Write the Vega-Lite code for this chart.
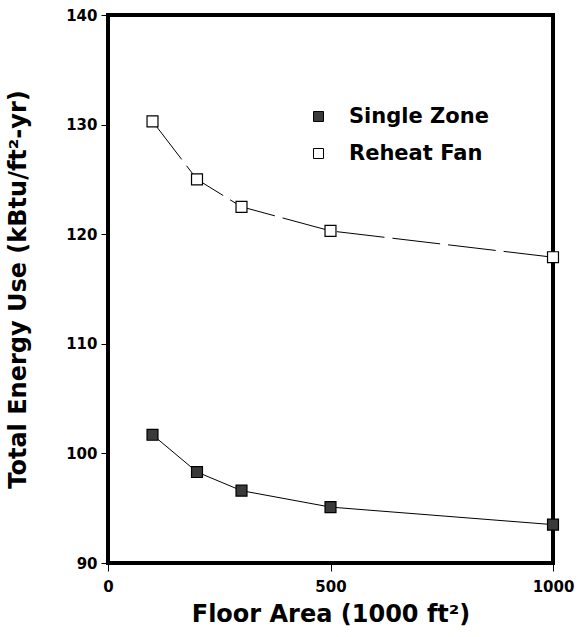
{
  "$schema": "https://vega.github.io/schema/vega-lite/v6.json",
  "width": 445,
  "height": 548,
  "autosize": {"type": "none"},
  "padding": {"left": 108, "top": 15, "right": 33, "bottom": 74},
  "background": "white",
  "config": {
    "view": {"stroke": "black", "strokeWidth": 4},
    "axis": {
      "grid": false,
      "domain": false,
      "tickColor": "black",
      "tickWidth": 1,
      "labelColor": "black",
      "labelFont": "DejaVu Sans",
      "labelFontWeight": "bold",
      "labelFontSize": 15,
      "titleColor": "black",
      "titleFont": "DejaVu Sans",
      "titleFontWeight": "bold",
      "titleFontSize": 24
    }
  },
  "data": {
    "values": [
      {"area": 100, "energy": 101.7, "series": "Single Zone"},
      {"area": 200, "energy": 98.3, "series": "Single Zone"},
      {"area": 300, "energy": 96.6, "series": "Single Zone"},
      {"area": 500, "energy": 95.1, "series": "Single Zone"},
      {"area": 1000, "energy": 93.5, "series": "Single Zone"},
      {"area": 100, "energy": 130.3, "series": "Reheat Fan"},
      {"area": 200, "energy": 125.0, "series": "Reheat Fan"},
      {"area": 300, "energy": 122.5, "series": "Reheat Fan"},
      {"area": 500, "energy": 120.3, "series": "Reheat Fan"},
      {"area": 1000, "energy": 117.9, "series": "Reheat Fan"}
    ]
  },
  "encoding": {
    "x": {
      "field": "area",
      "type": "quantitative",
      "scale": {"domain": [0, 1000], "nice": false, "zero": false},
      "axis": {
        "values": [0, 500, 1000],
        "format": "d",
        "tickSize": 8,
        "labelPadding": 8,
        "labelFlush": false,
        "title": "Floor Area (1000 ft²)",
        "titlePadding": 8
      }
    },
    "y": {
      "field": "energy",
      "type": "quantitative",
      "scale": {"domain": [90, 140], "nice": false, "zero": false},
      "axis": {
        "values": [90, 100, 110, 120, 130, 140],
        "tickSize": 7,
        "labelPadding": 4,
        "labelFlush": false,
        "title": "Total Energy Use (kBtu/ft²-yr)",
        "titleX": -78,
        "titleY": 274
      }
    }
  },
  "layer": [
    {
      "transform": [{"filter": "datum.series === 'Single Zone'"}],
      "mark": {"type": "line", "color": "black", "strokeWidth": 1},
      "encoding": {}
    },
    {
      "transform": [{"filter": "datum.series === 'Reheat Fan'"}],
      "mark": {"type": "line", "color": "black", "strokeWidth": 1, "strokeDash": [48, 8]},
      "encoding": {}
    },
    {
      "mark": {"type": "point", "shape": "square", "filled": true, "stroke": "black", "strokeWidth": 1.2, "size": 120, "opacity": 1},
      "encoding": {
        "fill": {
          "field": "series",
          "type": "nominal",
          "scale": {"domain": ["Single Zone", "Reheat Fan"], "range": ["#3a3a3a", "white"]},
          "legend": {
            "orient": "none",
            "legendX": 200,
            "legendY": 91,
            "title": null,
            "symbolType": "square",
            "symbolSize": 100,
            "symbolStrokeColor": "black",
            "symbolStrokeWidth": 1,
            "labelFont": "DejaVu Sans",
            "labelFontWeight": "bold",
            "labelFontSize": 21,
            "labelColor": "black",
            "labelOffset": 20,
            "rowPadding": 15
          }
        }
      }
    }
  ]
}
